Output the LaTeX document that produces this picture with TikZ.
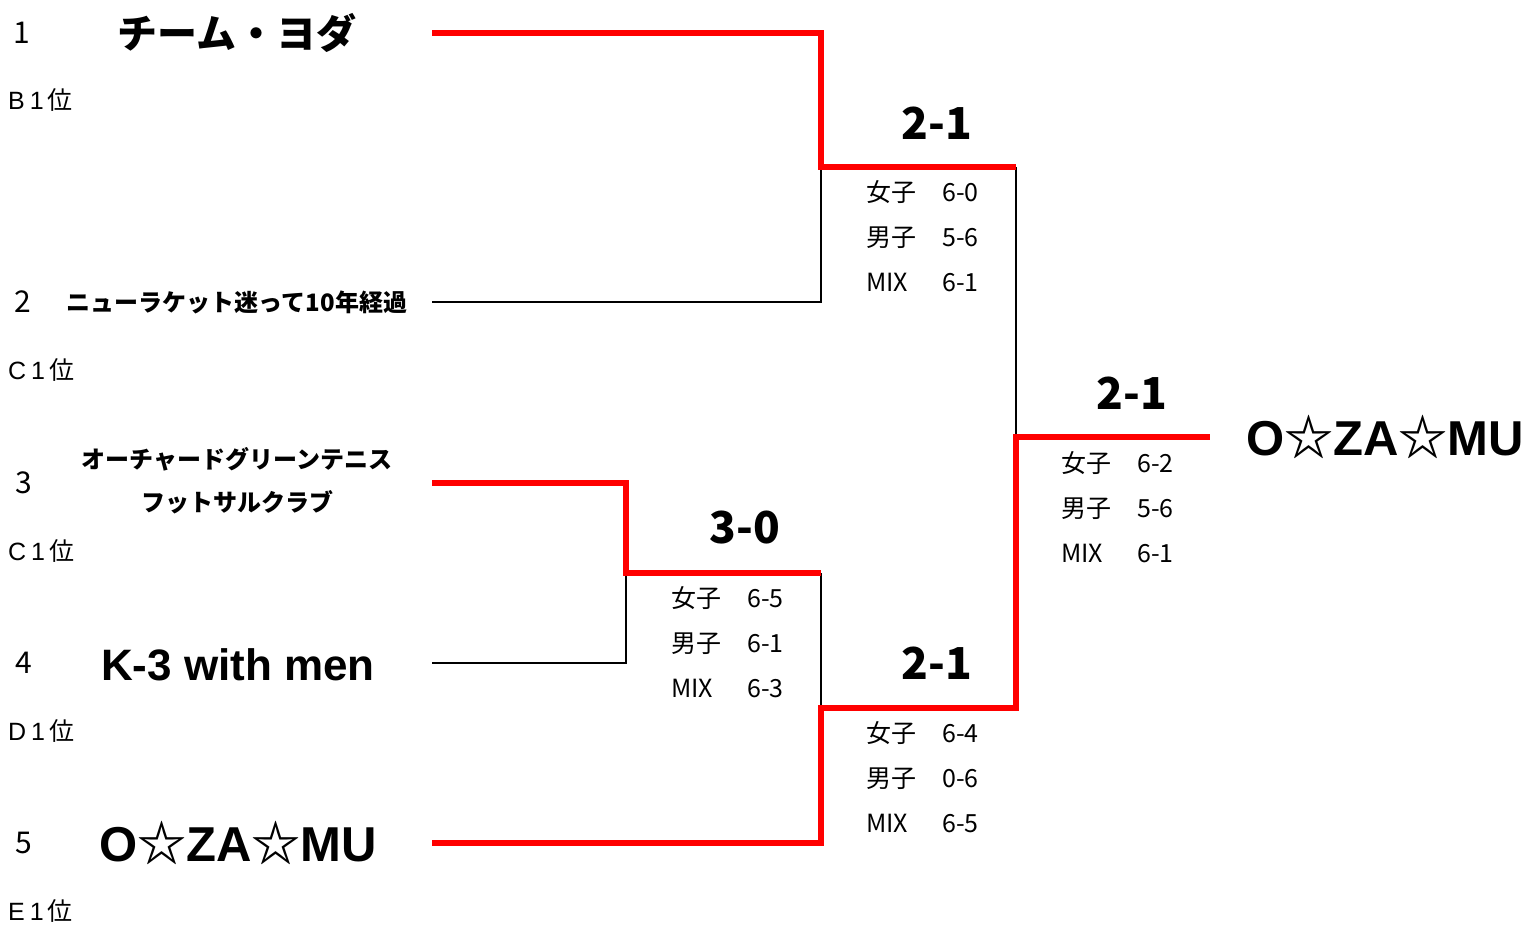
\documentclass[tikz,border=0pt]{standalone}
\usepackage{fontspec}
\setmainfont{Noto Sans CJK JP}
\newfontfamily\latin{Liberation Sans}
\newcommand{\scoreline}[2]{\makebox[76pt][l]{#1}#2}
\newcommand{\ozamu}{{\latin O}☆{\latin ZA}☆{\latin MU}}
\begin{document}
\begin{tikzpicture}[x=1pt, y=-1pt,
    every node/.style={inner sep=0pt},
    seed/.style={font=\fontsize{30}{30}\selectfont},
    rank/.style={anchor=west, font=\fontsize{25}{25}\selectfont},
    team/.style={font=\fontsize{40}{40}\selectfont\bfseries},
    bigteam/.style={font=\fontsize{49}{49}\selectfont\bfseries},
    smallteam/.style={align=center, font=\fontsize{24}{43}\selectfont\bfseries},
    result/.style={font=\fontsize{44}{44}\selectfont\bfseries},
    detail/.style={anchor=west, align=left, font=\fontsize{25}{45}\selectfont},
    win/.style={red, line width=5.5pt, line join=miter},
    lose/.style={black, line width=2.2pt}]

    \useasboundingbox (0,0) rectangle (1529,925);

    % seeds and ranks
    \node[seed] (S1) at (22, 33) {1};
    \node[seed] (S2) at (23, 302) {2};
    \node[seed] (S3) at (24, 483) {3};
    \node[seed] (S4) at (24, 663) {4};
    \node[seed] (S5) at (24, 843) {5};

    \node[rank] (R1) at (8, 100) {{\latin B\hspace{5pt}1}\hspace{4pt}位};
    \node[rank] (R2) at (8, 370) {{\latin C\hspace{5pt}1}\hspace{4pt}位};
    \node[rank] (R3) at (8, 551) {{\latin C\hspace{5pt}1}\hspace{4pt}位};
    \node[rank] (R4) at (8, 731) {{\latin D\hspace{5pt}1}\hspace{4pt}位};
    \node[rank] (R5) at (8, 911) {{\latin E\hspace{5pt}1}\hspace{4pt}位};

    % teams
    \node[team] (T1) at (237, 33) {チーム・ヨダ};
    \node[smallteam] (T2) at (237, 302) {ニューラケット迷って10年経過};
    \node[smallteam] (T3) at (237, 481) {オーチャードグリーンテニス\\フットサルクラブ};
    \node[team] (T4) at (238, 665) {\latin\fontsize{44}{44}\selectfont K-3 with men};
    \node[bigteam] (T5) at (238, 843) {\ozamu};
    \node[bigteam] (W) at (1385, 437) {\ozamu};

    % bracket points
    \coordinate (t1) at (432, 33);
    \coordinate (t2) at (432, 302);
    \coordinate (t3) at (432, 483);
    \coordinate (t4) at (432, 663);
    \coordinate (t5) at (432, 843);
    \coordinate (A) at (626, 573);
    \coordinate (A2) at (821, 573);
    \coordinate (B) at (821, 167);
    \coordinate (B2) at (1016, 167);
    \coordinate (C) at (821, 708);
    \coordinate (C2) at (1016, 708);
    \coordinate (D) at (1016, 437);
    \coordinate (D2) at (1210, 437);

    \draw[lose] (t2) -| (B);
    \draw[lose] (t4) -| (A);
    \draw[lose] (A2) -- (C);
    \draw[lose] (B2) -- (D);

    \draw[win] (t1) -| (B) -- (B2);
    \draw[win] (t3) -| (A) -- (A2);
    \draw[win] (t5) -| (C) -- (C2) -- (D) -- (D2);

    % results
    \node[result] (RB) at (937, 123) {2-1};
    \node[detail] (DB) at (866, 236) {\scoreline{女子}{6-0}\\\scoreline{男子}{5-6}\\\scoreline{MIX}{6-1}};

    \node[result] (RA) at (745, 528) {3-0};
    \node[detail] (DA) at (671, 642) {\scoreline{女子}{6-5}\\\scoreline{男子}{6-1}\\\scoreline{MIX}{6-3}};

    \node[result] (RC) at (937, 663) {2-1};
    \node[detail] (DC) at (866, 777) {\scoreline{女子}{6-4}\\\scoreline{男子}{0-6}\\\scoreline{MIX}{6-5}};

    \node[result] (RD) at (1132, 393) {2-1};
    \node[detail] (DD) at (1061, 507) {\scoreline{女子}{6-2}\\\scoreline{男子}{5-6}\\\scoreline{MIX}{6-1}};

\end{tikzpicture}
\end{document}
